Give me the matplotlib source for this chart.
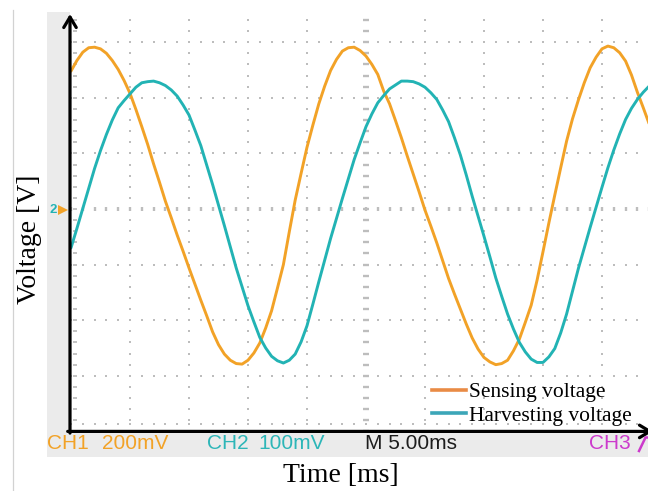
import numpy as np
import matplotlib
matplotlib.use("Agg")
import matplotlib.pyplot as plt
from matplotlib.lines import Line2D
from matplotlib.patches import Rectangle

# ---------------- data ----------------
# sample times (ms) and trace values in screen divisions (centre line = 0)
time_ms = [0, 0.5, 1, 1.5, 2, 2.5, 3, 3.5, 4, 4.5,
           5, 5.5, 6, 6.5, 7, 7.5, 8, 8.5, 9, 9.5,
           10, 10.5, 11, 11.5, 12, 12.5, 13, 13.5, 14, 14.5,
           15, 15.5, 16, 16.5, 17, 17.5, 18, 18.5, 19, 19.5,
           20, 20.5, 21, 21.5, 22, 22.5, 23, 23.5, 24, 24.5,
           25, 25.5, 26, 26.5, 27, 27.5, 28, 28.5, 29, 29.5,
           30, 30.5, 31, 31.5, 32, 32.5, 33, 33.5, 34, 34.5,
           35, 35.5, 36, 36.5, 37, 37.5, 38, 38.5, 39, 39.5,
           40, 40.5, 41, 41.5, 42, 42.5, 43, 43.5, 44, 44.5,
           45, 45.5, 46, 46.5, 47, 47.5, 48, 48.5, 49]

sensing_div = [2.48, 2.67, 2.82, 2.90, 2.91, 2.88, 2.80, 2.67, 2.51, 2.31,
               2.08, 1.79, 1.48, 1.16, 0.81, 0.48, 0.14, -0.16, -0.47, -0.76,
               -1.06, -1.35, -1.64, -1.92, -2.21, -2.44, -2.61, -2.72, -2.78, -2.79,
               -2.72, -2.59, -2.41, -2.14, -1.83, -1.42, -1.00, -0.41, 0.16, 0.64,
               1.11, 1.51, 1.89, 2.21, 2.49, 2.69, 2.84, 2.90, 2.91, 2.85,
               2.75, 2.60, 2.42, 2.12, 1.89, 1.59, 1.28, 0.95, 0.63, 0.31,
               -0.02, -0.31, -0.61, -0.93, -1.25, -1.53, -1.80, -2.07, -2.32, -2.52,
               -2.67, -2.75, -2.80, -2.78, -2.72, -2.55, -2.34, -2.04, -1.73, -1.28,
               -0.77, -0.25, 0.25, 0.74, 1.22, 1.62, 1.96, 2.27, 2.54, 2.73,
               2.88, 2.93, 2.90, 2.81, 2.66, 2.41, 2.10, 1.82, 1.53]

harvesting_div = [-0.70, -0.35, 0.01, 0.37, 0.73, 1.05, 1.34, 1.60, 1.82, 1.95,
                  2.07, 2.19, 2.27, 2.29, 2.30, 2.27, 2.22, 2.14, 2.03, 1.87,
                  1.69, 1.42, 1.14, 0.79, 0.44, 0.07, -0.30, -0.68, -1.06, -1.40,
                  -1.74, -2.03, -2.31, -2.50, -2.65, -2.73, -2.77, -2.72, -2.61, -2.39,
                  -2.10, -1.71, -1.31, -0.92, -0.53, -0.17, 0.19, 0.54, 0.89, 1.19,
                  1.48, 1.71, 1.91, 2.04, 2.16, 2.23, 2.30, 2.30, 2.29, 2.25,
                  2.19, 2.09, 1.97, 1.78, 1.57, 1.28, 0.97, 0.61, 0.23, -0.13,
                  -0.49, -0.86, -1.24, -1.57, -1.89, -2.16, -2.40, -2.57, -2.70, -2.76,
                  -2.76, -2.66, -2.51, -2.23, -1.89, -1.48, -1.07, -0.70, -0.33, 0.03,
                  0.39, 0.74, 1.06, 1.35, 1.61, 1.81, 1.97, 2.10, 2.21]

series_labels = ["Sensing voltage", "Harvesting voltage"]
scope_labels = ["CH1", "200mV", "CH2", "100mV", "M 5.00ms", "CH3"]
x_label = "Time [ms]"
y_label = "Voltage [V]"

# ---------------- styling ----------------
ORANGE = "#F2A227"
TEAL = "#22B3B4"
LEG_ORANGE = "#E98B45"
LEG_TEAL = "#3CA6B8"
GRID = "#bdbdbd"
BAND = "#ebebeb"
SERIF = "Liberation Serif"
SANS = "Liberation Sans"

W, H = 648, 491
fig = plt.figure(figsize=(W / 100, H / 100), dpi=100)
fig.patch.set_facecolor("white")


def fx(x):
    return x / W


def fy(y):
    return 1 - y / H


# grey screen bands (left and bottom) and page edge line
fig.add_artist(Rectangle((fx(47), fy(456.5)), (70 - 47) / W, (456.5 - 12) / H,
                         transform=fig.transFigure, color=BAND, zorder=-2, lw=0))
fig.add_artist(Rectangle((fx(47), fy(456.5)), (W - 47) / W, (456.5 - 431) / H,
                         transform=fig.transFigure, color=BAND, zorder=-2, lw=0))
fig.add_artist(Line2D([fx(12.5), fx(12.5)], [0, fy(10)], transform=fig.transFigure,
                      color="#d2d2d2", lw=0.9, zorder=-1))

ax = fig.add_axes([fx(70), fy(431.4), (W - 70) / W, (431.4 - 11.6) / H])
ax.set_facecolor("white")
ax.set_xlim(-0.085, 48.9)
ax.set_ylim(-4.0, 3.55)
ax.set_xticks([])
ax.set_yticks([])
for s in ax.spines.values():
    s.set_visible(False)

# ---------------- oscilloscope graticule ----------------
dot_y = np.arange(-4.0, 3.61, 0.2)
dot_t = np.arange(0.0, 49.5, 1.0)
for t in [5, 10, 15, 20, 30, 35, 40, 45]:
    ax.plot(np.full_like(dot_y, t), dot_y, ls="none", marker="s", ms=1.7,
            mew=0, color=GRID, zorder=1)
for yv in [-3, -2, -1, 1, 2, 3]:
    ax.plot(dot_t, np.full_like(dot_t, yv), ls="none", marker="s", ms=1.7,
            mew=0, color=GRID, zorder=1)
# centre cross with minor tick marks
ax.plot(dot_t, np.zeros_like(dot_t), ls="none", marker="|", ms=3.2, mew=1.7,
        color=GRID, zorder=1)
ax.plot(np.full_like(dot_y, 25.0), dot_y, ls="none", marker="_", ms=3.8, mew=1.7,
        color=GRID, zorder=1)
# border ticks along left and bottom edges
ax.plot(np.full_like(dot_y, 0.34), dot_y, ls="none", marker="_", ms=3.2, mew=1.3,
        color=GRID, zorder=1)
ax.plot(dot_t, np.full_like(dot_t, -3.87), ls="none", marker="s", ms=1.7, mew=0,
        color=GRID, zorder=1)

# ---------------- traces ----------------
ax.plot(time_ms, sensing_div, color=ORANGE, lw=2.1, zorder=3,
        solid_joinstyle="round", solid_capstyle="round")
ax.plot(time_ms, harvesting_div, color=TEAL, lw=2.1, zorder=4,
        solid_joinstyle="round", solid_capstyle="round")

# ---------------- axes arrows ----------------
ax.annotate("", xy=(0.0, (431.4 - 14) / (431.4 - 11.6)), xytext=(0.0, -0.004),
            xycoords="axes fraction", textcoords="axes fraction",
            arrowprops=dict(arrowstyle="->,head_length=0.75,head_width=0.45",
                            lw=2.3, color="black", shrinkA=0, shrinkB=0),
            annotation_clip=False, zorder=6)
ax.annotate("", xy=((653 - 70) / (W - 70), 0.0), xytext=(-0.004, 0.0),
            xycoords="axes fraction", textcoords="axes fraction",
            arrowprops=dict(arrowstyle="->,head_length=0.75,head_width=0.45",
                            lw=2.3, color="black", shrinkA=0, shrinkB=0),
            annotation_clip=False, zorder=6)

# ---------------- labels ----------------
ax.set_xlabel(x_label, family=SERIF, fontsize=20, va="center")
ax.xaxis.set_label_coords((340.5 - 70) / (W - 70), (431.4 - 476) / (431.4 - 11.6))
ax.set_ylabel(y_label, family=SERIF, fontsize=20, va="center", ha="center")
ax.yaxis.set_label_coords((29.5 - 70) / (W - 70), (431.4 - 239) / (431.4 - 11.6))

# ---------------- legend ----------------
handles = [Line2D([], [], color=LEG_ORANGE, lw=2.6),
           Line2D([], [], color=LEG_TEAL, lw=2.6)]
ax.legend(handles, series_labels, loc="upper left",
          bbox_to_anchor=(fx(432), fy(382)), bbox_transform=fig.transFigure,
          frameon=False, borderpad=0, borderaxespad=0, handlelength=1.6,
          handletextpad=0.12, labelspacing=0.18,
          prop=dict(family=SERIF, size=15.5))

# ---------------- scope status line ----------------
scope_colors = [ORANGE, ORANGE, "#2DB6B8", "#2DB6B8", "#1c1c1c", "#CC3ACC"]
scope_x = [47, 102, 207, 258, 365, 589]
for lab, col, xp in zip(scope_labels, scope_colors, scope_x):
    fig.text(fx(xp), fy(443.5), lab, color=col, family=SANS, fontsize=15,
             ha="left", va="center")
fig.add_artist(Line2D([fx(639), fx(645.5), fx(650)], [fy(451), fy(437.5), fy(437.5)],
                      transform=fig.transFigure, color="#CC3ACC", lw=1.8))

# channel ground marker "2>"
fig.text(fx(53), fy(210), "2", color=TEAL, family=SANS, fontsize=9.5,
         fontweight="bold", ha="center", va="center")
fig.add_artist(Line2D([fx(63)], [fy(210)], marker=">", ms=6.5, mew=0,
                      color=ORANGE, transform=fig.transFigure, ls="none"))

fig.savefig("out.png", dpi=100, facecolor="white")
